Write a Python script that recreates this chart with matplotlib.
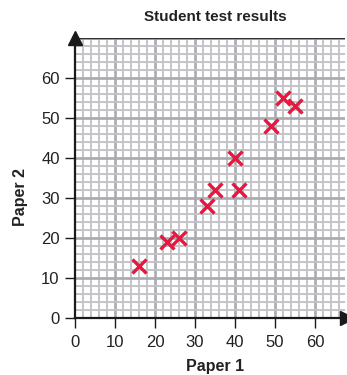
import matplotlib
matplotlib.use("Agg")
import matplotlib.pyplot as plt
import numpy as np

paper1 = [16, 23, 26, 33, 35, 40, 41, 49, 52, 55]
paper2 = [13, 19, 20, 28, 32, 40, 32, 48, 55, 53]
xticks = [0, 10, 20, 30, 40, 50, 60]
yticks = [0, 10, 20, 30, 40, 50, 60]

W, H = 347, 375
fig = plt.figure(figsize=(W / 100, H / 100), dpi=100)
ax = fig.add_axes([75 / W, (H - 318) / H, 270 / W, 280 / H])
ax.set_xlim(0, 67.5)
ax.set_ylim(0, 70)

font = "Liberation Sans"
# grid
for v in np.arange(2, 68, 2):
    major = v % 10 == 0
    ax.axvline(v, color="#a9a9b0" if major else "#c3c3c8", lw=1.9 if major else 1.4, zorder=0)
for v in np.arange(2, 71, 2):
    major = v % 10 == 0
    ax.axhline(v, color="#a9a9b0" if major else "#c3c3c8", lw=1.9 if major else 1.4, zorder=0)
ax.axhline(70, color="#333333", lw=1.0, zorder=1)

for s in ["top", "right"]:
    ax.spines[s].set_visible(False)
for s in ["left", "bottom"]:
    ax.spines[s].set_linewidth(1.6)
    ax.spines[s].set_color("#1a1a1a")

ax.set_xticks(xticks)
ax.set_yticks(yticks)
ax.tick_params(length=7, width=1.0, color="#1a1a1a", labelsize=12)
ax.tick_params(axis="x", pad=5)
ax.tick_params(axis="y", pad=4)
for lab in ax.get_xticklabels() + ax.get_yticklabels():
    lab.set_fontfamily(font)
    lab.set_color("#222222")

ax.plot(paper1, paper2, linestyle="none", marker="x", color="#e8173f",
        markersize=10.5, markeredgewidth=2.4, zorder=3, clip_on=False)

# arrows
ax.plot(0, 70, marker="^", color="#1a1a1a", markersize=10, clip_on=False,
        zorder=4)
ax.plot([1.0 + 1.5 / 270], [0], marker=">", color="#1a1a1a", markersize=10,
        clip_on=False, zorder=4, transform=ax.get_yaxis_transform())

fig.text(215 / W, 1 - 17 / H, "Student test results", ha="center", va="center",
         fontsize=11, fontweight="bold", family=font, color="#222222")
fig.text(215 / W, 1 - 366 / H, "Paper 1", ha="center", va="center",
         fontsize=11.5, fontweight="bold", family=font, color="#222222")
fig.text(20 / W, 1 - 197 / H, "Paper 2", ha="center", va="center", rotation=90,
         fontsize=11.5, fontweight="bold", family=font, color="#222222")

fig.savefig("out.png", dpi=100)
